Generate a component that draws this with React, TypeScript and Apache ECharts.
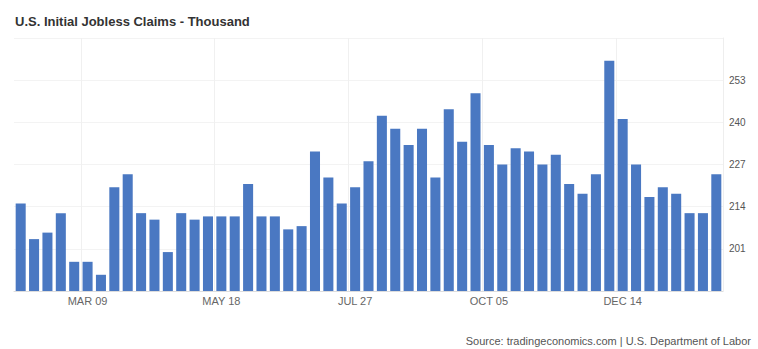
import React, { useEffect, useRef } from "react";
import * as echarts from "echarts";

const weeks: string[] = [
  "Feb 02", "Feb 09", "Feb 16", "Feb 23", "Mar 02", "Mar 09", "Mar 16", "Mar 23", "Mar 30", "Apr 06",
  "Apr 13", "Apr 20", "Apr 27", "May 04", "May 11", "May 18", "May 25", "Jun 01", "Jun 08", "Jun 15",
  "Jun 22", "Jun 29", "Jul 06", "Jul 13", "Jul 20", "Jul 27", "Aug 03", "Aug 10", "Aug 17", "Aug 24",
  "Aug 31", "Sep 07", "Sep 14", "Sep 21", "Sep 28", "Oct 05", "Oct 12", "Oct 19", "Oct 26", "Nov 02",
  "Nov 09", "Nov 16", "Nov 23", "Nov 30", "Dec 07", "Dec 14", "Dec 21", "Dec 28", "Jan 04", "Jan 11",
  "Jan 18", "Jan 25", "Feb 01",
];

const claims: number[] = [
  215, 204, 206, 212, 197, 197, 193, 220, 224, 212,
  210, 200, 212, 210, 211, 211, 211, 221, 211, 211,
  207, 208, 231, 223, 215, 220, 228, 242, 238, 233,
  238, 223, 244, 234, 249, 233, 227, 232, 231, 227,
  230, 221, 218, 224, 259, 241, 227, 217, 220, 218,
  212, 212, 224,
];

const yMin = 188;
const yMax = 266;
const yStep = 13;

const titleText = "U.S. Initial Jobless Claims - Thousand";
const sourceText = "Source: tradingeconomics.com | U.S. Department of Labor";

export default function App() {
  const ref = useRef<HTMLDivElement>(null);
  useEffect(() => {
    if (!ref.current) return;
    const chart = echarts.init(ref.current, null, { renderer: "svg" });
    chart.setOption({
      animation: false,
      backgroundColor: "#ffffff",
      textStyle: { fontFamily: "Arial, 'Liberation Sans', sans-serif" },
      title: [
        {
          text: titleText,
          left: 10,
          top: 10,
          textStyle: { fontSize: 13, fontWeight: 600, color: "#333333" },
        },
        {
          text: sourceText,
          right: 2,
          top: 330,
          textStyle: { fontSize: 11, fontWeight: "normal", color: "#555555" },
        },
      ],
      grid: { left: 14, right: 35, top: 38, bottom: 58, containLabel: false },
      xAxis: {
        type: "category",
        data: weeks,
        axisLine: { show: true, lineStyle: { color: "#dddddd" } },
        axisTick: { show: false },
        axisLabel: {
          interval: (i: number) => i % 10 === 5,
          color: "#666666",
          fontSize: 11,
          margin: 4,
          formatter: (v: string) => v.toUpperCase(),
        },
        splitLine: {
          show: true,
          interval: (i: number) => i % 10 === 5,
          lineStyle: { color: "#f0f0f0" },
        },
      },
      yAxis: {
        type: "value",
        position: "right",
        min: yMin,
        max: yMax,
        interval: yStep,
        axisLine: { show: true, lineStyle: { color: "#eeeeee" } },
        axisTick: { show: false },
        axisLabel: {
          showMinLabel: false,
          showMaxLabel: false,
          color: "#555555",
          fontSize: 10,
          margin: 6,
        },
        splitLine: { show: true, lineStyle: { color: "#f3f3f3" } },
      },
      series: [
        {
          type: "bar",
          data: claims,
          barCategoryGap: "25%",
          itemStyle: { color: "#4a78c2" },
        },
      ],
    });
    return () => chart.dispose();
  }, []);
  return (
    <div
      ref={ref}
      style={{ position: "fixed", left: 0, top: 0, width: 758, height: 349 }}
    />
  );
}
